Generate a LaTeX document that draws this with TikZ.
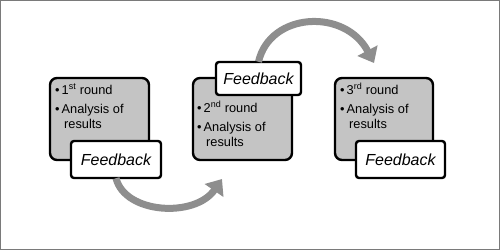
\documentclass[tikz,border=0pt]{standalone}
\usepackage{fontspec}
\setmainfont{Liberation Sans}
\usetikzlibrary{arrows.meta}
\definecolor{boxgray}{HTML}{C4C4C4}
\definecolor{arrowgray}{HTML}{8E8E8E}
\definecolor{framegray}{HTML}{7A7A7A}
\tikzset{
  roundbox/.style={draw=black, line width=2.4pt, fill=boxgray, rounded corners=7pt, minimum width=99pt, minimum height=82pt, inner sep=0pt},
  fbbox/.style={draw=black, line width=2.4pt, fill=white, rounded corners=3pt, inner sep=0pt, font=\fontsize{16}{18}\selectfont\itshape},
  itemtext/.style={anchor=base west, inner sep=0pt, font=\fontsize{12.8}{14}\selectfont},
  bigarrow/.style={draw=arrowgray, line width=7pt, -{Triangle[length=14pt, width=22pt]}}
}
\begin{document}
\begin{tikzpicture}[x=1pt, y=-1pt]
\useasboundingbox (0,0) rectangle (500,250);
\draw[framegray, line width=1pt] (0.5,0.5) rectangle (499.5,249.5);

% box 1
\node[roundbox] (b1) at (99.5,119) {};
\node[itemtext] (b1a) at (55,94) {•\hspace{2pt}1\textsuperscript{st} round};
\node[itemtext] (b1b) at (55,113) {•\hspace{2pt}Analysis of};
\node[itemtext] (b1c) at (64,128) {results};
\node[fbbox, minimum width=90pt, minimum height=37pt] (f1) at (116,159.5) {Feedback};

% box 2
\node[roundbox] (b2) at (242.5,119) {};
\node[itemtext] (b2a) at (197,112) {•\hspace{2pt}2\textsuperscript{nd} round};
\node[itemtext] (b2b) at (197,131) {•\hspace{2pt}Analysis of};
\node[itemtext] (b2c) at (206,146) {results};
\node[fbbox, minimum width=85pt, minimum height=33pt] (f2) at (258.5,78.5) {Feedback};

% box 3
\node[roundbox, minimum width=98pt] (b3) at (384,119) {};
\node[itemtext] (b3a) at (340,94) {•\hspace{2pt}3\textsuperscript{rd} round};
\node[itemtext] (b3b) at (340,113) {•\hspace{2pt}Analysis of};
\node[itemtext] (b3c) at (349,128) {results};
\node[fbbox, minimum width=89pt, minimum height=37pt] (f3) at (400.5,159.5) {Feedback};

% arrows
\coordinate (e1) at (222,179);
\coordinate (e2) at (374,63);
\draw[bigarrow] ([yshift=1pt]f1.south) .. controls (125,214) and (195,218) .. (e1);
\draw[bigarrow] ([yshift=-1pt]f2.north) .. controls (270,12) and (345,8) .. (e2);
\end{tikzpicture}
\end{document}
